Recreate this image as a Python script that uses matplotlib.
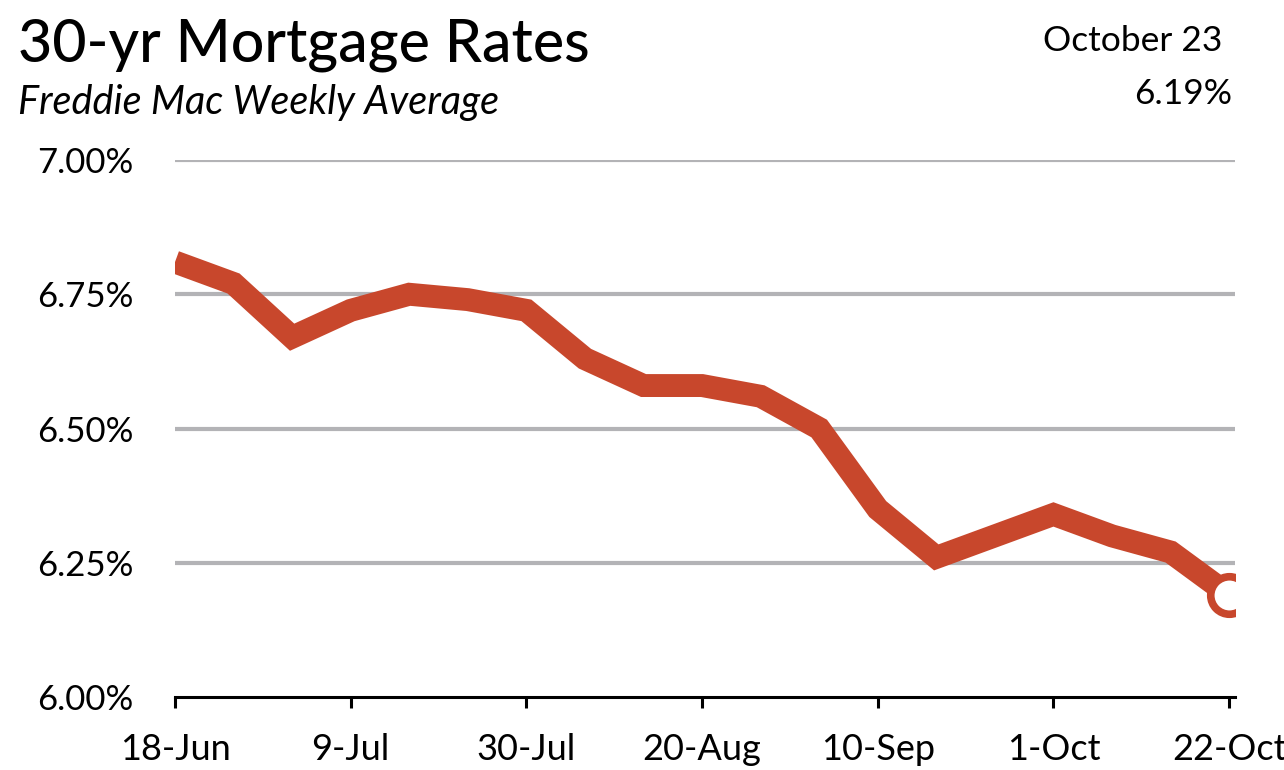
import matplotlib
matplotlib.use('Agg')
import matplotlib.pyplot as plt

# Freddie Mac weekly 30-yr fixed averages, 18-Jun to 22-Oct
weeks = ['18-Jun', '25-Jun', '2-Jul', '9-Jul', '16-Jul', '23-Jul', '30-Jul',
         '6-Aug', '13-Aug', '20-Aug', '27-Aug', '3-Sep', '10-Sep', '17-Sep',
         '24-Sep', '1-Oct', '8-Oct', '15-Oct', '22-Oct']
rates = [6.81, 6.77, 6.67, 6.72, 6.75, 6.74, 6.72, 6.63, 6.58, 6.58,
         6.56, 6.50, 6.35, 6.26, 6.30, 6.34, 6.30, 6.27, 6.19]
y_ticks = [6.00, 6.25, 6.50, 6.75, 7.00]

plt.rcParams['font.family'] = ['Lato', 'DejaVu Sans']
line_color = '#c8472c'

fig = plt.figure(figsize=(12.84, 7.70), dpi=100)
ax = fig.add_axes([175 / 1284, 1 - 697 / 770, 1060 / 1284, (697 - 160) / 770])

x = list(range(len(weeks)))
ax.plot(x, rates, color=line_color, linewidth=16.5, solid_joinstyle='miter',
        solid_capstyle='butt', zorder=3)
ax.plot(x[-1], rates[-1], marker='o', markersize=27, markerfacecolor='white',
        markeredgecolor=line_color, markeredgewidth=5.5, zorder=4)

ax.set_xlim(0, 18.1)
ax.set_ylim(6.0, 7.0)
ax.set_yticks(y_ticks)
ax.set_yticklabels([f'{v:.2f}%' for v in y_ticks])
ax.set_xticks(x[::3])
ax.set_xticklabels(weeks[::3])

for v in y_ticks[1:]:
    ax.axhline(v, color='#b3b3b6', linewidth=3, zorder=1)

for s in ['top', 'right', 'left']:
    ax.spines[s].set_visible(False)
ax.spines['bottom'].set_linewidth(2.2)
ax.spines['bottom'].set_color('black')
ax.tick_params(axis='y', length=0, pad=30, labelsize=25)
ax.tick_params(axis='x', length=8, width=2.2, pad=18, labelsize=26)
ax.set_facecolor('white')

fig.text(18 / 1284, 1 - 62 / 770, '30-yr Mortgage Rates', fontsize=42.5,
         fontweight='medium', ha='left', va='baseline')
fig.text(18 / 1284, 1 - 114 / 770, 'Freddie Mac Weekly Average', fontsize=28.5,
         style='italic', ha='left', va='baseline')
fig.text(1222 / 1284, 1 - 51 / 770, 'October 23', fontsize=25.5,
         ha='right', va='baseline')
fig.text(1232 / 1284, 1 - 104 / 770, f'{rates[-1]:.2f}%', fontsize=25.5,
         ha='right', va='baseline')

fig.savefig('out.png', dpi=100, facecolor='white')
